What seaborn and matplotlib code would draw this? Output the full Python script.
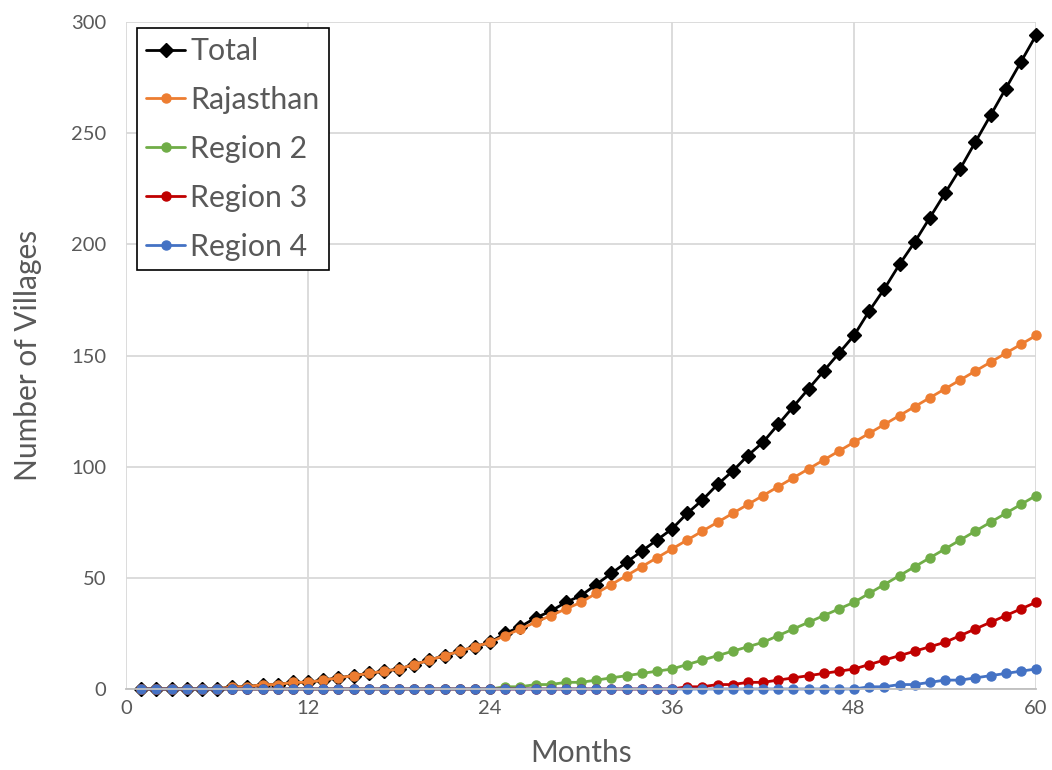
import numpy as np
import pandas as pd
import matplotlib
matplotlib.use("Agg")
import matplotlib.pyplot as plt
import seaborn as sns

# Months 1..60
months = list(range(1, 61))

total = [0, 0, 0, 0, 0, 0, 1, 1, 2, 2, 3, 3, 4, 5, 6, 7, 8, 9, 11, 13,
         15, 17, 19, 21, 25, 28, 32, 35, 39, 42, 47, 52, 57, 62, 67, 72, 79, 85, 92, 98,
         105, 111, 119, 127, 135, 143, 151, 159, 170, 180, 191, 201, 212, 223, 234, 246, 258, 270, 282, 294]

rajasthan = [0, 0, 0, 0, 0, 0, 1, 1, 2, 2, 3, 3, 4, 5, 6, 7, 8, 9, 11, 13,
             15, 17, 19, 21, 24, 27, 30, 33, 36, 39, 43, 47, 51, 55, 59, 63, 67, 71, 75, 79,
             83, 87, 91, 95, 99, 103, 107, 111, 115, 119, 123, 127, 131, 135, 139, 143, 147, 151, 155, 159]

region2 = [0] * 24 + [1, 1, 2, 2, 3, 3, 4, 5, 6, 7, 8, 9, 11, 13, 15, 17,
                      19, 21, 24, 27, 30, 33, 36, 39, 43, 47, 51, 55, 59, 63, 67, 71, 75, 79, 83, 87]

region3 = [0] * 36 + [1, 1, 2, 2, 3, 3, 4, 5, 6, 7, 8, 9,
                      11, 13, 15, 17, 19, 21, 24, 27, 30, 33, 36, 39]

region4 = [0] * 48 + [1, 1, 2, 2, 3, 4, 4, 5, 6, 7, 8, 9]

series_names = ["Total", "Rajasthan", "Region 2", "Region 3", "Region 4"]
series_values = [total, rajasthan, region2, region3, region4]
series_colors = ["#000000", "#ED7D31", "#70AD47", "#C00000", "#4472C4"]
series_markers = ["D", "o", "o", "o", "o"]
series_msize = [7, 6.5, 6.5, 6.5, 6.5]

x_ticks = [0, 12, 24, 36, 48, 60]
y_ticks = [0, 50, 100, 150, 200, 250, 300]

sns.set_style("white")
plt.rcParams["font.family"] = ["Lato", "DejaVu Sans"]

text_gray = "#595959"
grid_gray = "#D9D9D9"

fig = plt.figure(figsize=(10.52, 7.70), dpi=100)
ax = fig.add_axes([0.1198, 0.1052, 0.8650, 0.8662])

for name, vals, col, mk, ms in zip(series_names, series_values, series_colors,
                                   series_markers, series_msize):
    sns.lineplot(x=months, y=vals, ax=ax, color=col, marker=mk, markersize=ms,
                 markeredgecolor=col, markeredgewidth=1.0, linewidth=2.0,
                 label=name, clip_on=False)

ax.set_xlim(0, 60)
ax.set_ylim(0, 300)
ax.set_xticks(x_ticks)
ax.set_yticks(y_ticks)
ax.grid(True, color=grid_gray, linewidth=1.3)
ax.set_axisbelow(True)

for side in ["top", "right", "left"]:
    ax.spines[side].set_visible(False)
ax.spines["bottom"].set_color("#BFBFBF")
ax.spines["bottom"].set_linewidth(1.3)

ax.tick_params(axis="both", length=0, labelsize=14.5, labelcolor=text_gray)
ax.tick_params(axis="y", pad=14)
ax.tick_params(axis="x", pad=8)

ax.set_xlabel("Months", fontsize=21.5, color=text_gray, labelpad=16)
ax.set_ylabel("Number of Villages", fontsize=21.5, color=text_gray, labelpad=21)

leg = ax.legend(loc="upper left", bbox_to_anchor=(0.012, 0.991), borderaxespad=0,
                fontsize=21.8, frameon=True, fancybox=False, framealpha=1,
                edgecolor="black", handlelength=1.3, handletextpad=0.16,
                labelspacing=0.69, borderpad=0.3)
leg.get_frame().set_linewidth(1.2)
for t in leg.get_texts():
    t.set_color(text_gray)

fig.savefig("out.png", dpi=100, facecolor="white")
